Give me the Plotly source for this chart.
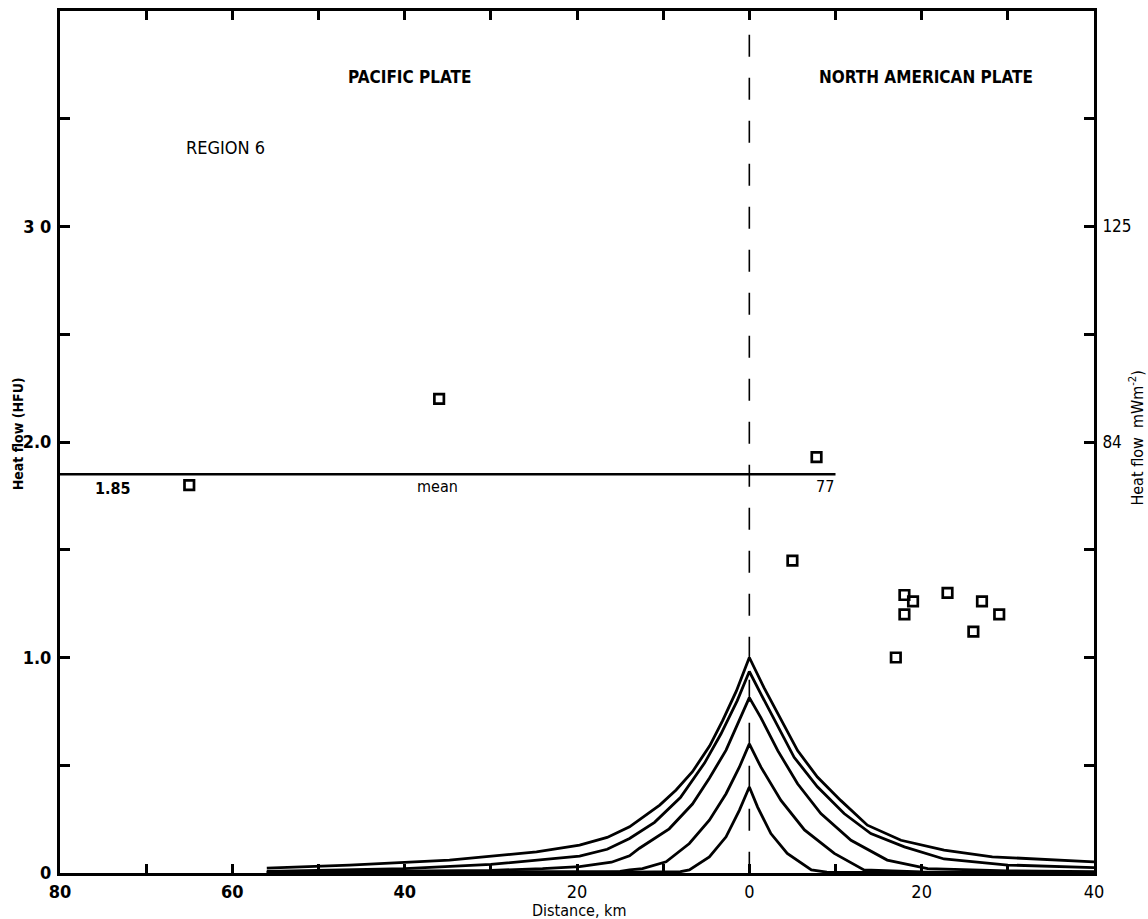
import plotly.graph_objects as go

# ---- data -------------------------------------------------------------
# Measured heat flow (HFU) vs. distance from the fault (km, Pacific side negative)
obs_distance_km = [-65, -36, 5, 7.8, 17, 18, 18, 19, 23, 26, 27, 29]
obs_heat_flow_hfu = [1.80, 2.20, 1.45, 1.93, 1.00, 1.29, 1.20, 1.26, 1.30, 1.12, 1.26, 1.20]

# Mean heat flow line
mean_hfu = 1.85
mean_mw = 77
mean_extent_km = [-80, 10]

# Model frictional-heating anomaly curves (HFU)
curve_a_km = [-56, -46.4, -34.8, -24.7, -19.7, -16.5, -13.9, -10.4, -8.5, -6.6, -4.6, -3.1,
              -1.5, 0, 1.7, 3.7, 5.6, 7.9, 10.6, 13.7, 17.6, 22.6, 28.2, 40]
curve_a_hfu = [0.023, 0.037, 0.06, 0.098, 0.129, 0.165, 0.214, 0.315, 0.385, 0.47, 0.59, 0.707,
               0.845, 1.0, 0.86, 0.707, 0.568, 0.445, 0.337, 0.222, 0.152, 0.106, 0.075, 0.052]

curve_b_km = [-56, -46, -40, -30, -24.7, -19.7, -16.5, -13.9, -11, -8, -5.2, -3.3, -1.4,
              0, 1.35, 3.3, 5.2, 7.9, 11, 14.1, 18, 22.6, 30, 40]
curve_b_hfu = [0.008, 0.014, 0.02, 0.04, 0.058, 0.078, 0.11, 0.16, 0.235, 0.35, 0.51, 0.645, 0.80,
               0.935, 0.83, 0.684, 0.537, 0.40, 0.276, 0.183, 0.121, 0.065, 0.037, 0.025]

curve_c_km = [-56, -40, -30, -24, -19.7, -16, -13.9, -12.75, -10, -9.3, -6.6, -4.64, -2.7, -1.16, 0,
              1.35, 3.3, 5.6, 8.3, 11.8, 16, 20.7, 30, 40]
curve_c_hfu = [0.004, 0.008, 0.012, 0.02, 0.03, 0.05, 0.08, 0.115, 0.185, 0.205, 0.32, 0.44, 0.57,
               0.707, 0.814, 0.72, 0.568, 0.414, 0.276, 0.152, 0.06, 0.02, 0.01, 0.006]

curve_d_km = [-56, -30, -15, -13.9, -12.4, -9.66, -6.96, -4.64, -2.7, -1.16, 0,
              1.35, 3.67, 6.4, 9.86, 13.3, 20, 40]
curve_d_hfu = [0.003, 0.004, 0.008, 0.014, 0.02, 0.052, 0.137, 0.245, 0.368, 0.491, 0.599,
               0.491, 0.337, 0.2, 0.091, 0.014, 0.005, 0.003]

curve_e_km = [-56, -20, -8, -6.96, -4.64, -2.7, -1.16, 0, 0.96, 2.5, 4.4, 7.2, 9, 40]
curve_e_hfu = [0.002, 0.002, 0.006, 0.014, 0.075, 0.168, 0.291, 0.399, 0.306, 0.183,
               0.091, 0.014, 0.004, 0.002]

model_curves = [
    (curve_a_km, curve_a_hfu),
    (curve_b_km, curve_b_hfu),
    (curve_c_km, curve_c_hfu),
    (curve_d_km, curve_d_hfu),
    (curve_e_km, curve_e_hfu),
]

# Axis ticks
x_tick_values = [-80, -70, -60, -50, -40, -30, -20, -10, 0, 10, 20, 30, 40]
x_tick_labels = ["<b>80</b>", "", "<b>60</b>", "", "<b>40</b>", "", "20", "", "0", "", "20", "", "40"]
y_tick_values = [0, 0.5, 1.0, 1.5, 2.0, 2.5, 3.0, 3.5]
y_tick_labels = ["<b>0</b>", "", "<b>1.0</b>", "", "<b>2.0</b>", "", "<b>3 0</b>", ""]
y_right_labels = ["", "", "", "", "84", "", "125", ""]

FONT = "Liberation Sans Narrow, DejaVu Sans Condensed, Arial Narrow, sans-serif"
INK = "#000000"

# ---- figure -------------------------------------------------------------
fig = go.Figure()

for xs, ys in model_curves:
    fig.add_trace(go.Scatter(x=xs, y=ys, mode="lines",
                             line=dict(color=INK, width=2.8),
                             showlegend=False, hoverinfo="skip"))

fig.add_trace(go.Scatter(x=mean_extent_km, y=[mean_hfu, mean_hfu], mode="lines",
                         line=dict(color=INK, width=2.5), showlegend=False))

fig.add_trace(go.Scatter(x=obs_distance_km, y=obs_heat_flow_hfu, mode="markers",
                         marker=dict(symbol="square-open", size=9.5, color=INK,
                                     line=dict(color=INK, width=2.7)),
                         showlegend=False))

# carrier for the right-hand (mW m^-2) axis
fig.add_trace(go.Scatter(x=[None], y=[None], yaxis="y2", showlegend=False))

# fault trace at zero distance
fig.add_shape(type="line", x0=0, x1=0, y0=3.89, y1=0, xref="x", yref="y",
              line=dict(color=INK, width=1.6, dash="22px,21px"), layer="below")

axis_common = dict(showgrid=False, zeroline=False, ticks="inside", tickwidth=3,
                   tickcolor=INK, showline=True, linecolor=INK, linewidth=3)

fig.update_layout(
    width=1148, height=919,
    margin=dict(l=60, r=54, t=8, b=46),
    paper_bgcolor="white", plot_bgcolor="white",
    font=dict(family=FONT, color=INK, size=17),
    xaxis=dict(range=[-80, 40], tickmode="array", tickvals=x_tick_values,
               ticktext=x_tick_labels, ticklen=9, mirror="ticks",
               tickfont=dict(family=FONT, size=18), **axis_common),
    yaxis=dict(range=[0, 4], tickmode="array", tickvals=y_tick_values,
               ticktext=y_tick_labels, ticklen=10, mirror=False,
               tickfont=dict(family=FONT, size=18), ticklabelstandoff=2,
               **axis_common),
    yaxis2=dict(range=[0, 4], overlaying="y", side="right", tickmode="array",
                tickvals=y_tick_values, ticktext=y_right_labels, ticklen=10,
                tickfont=dict(family=FONT, size=17), ticklabelstandoff=2,
                **axis_common),
)

annotations = [
    dict(x=-39.4, y=3.695, text="<b>PACIFIC PLATE</b>", size=17),
    dict(x=20.5, y=3.695, text="<b>NORTH AMERICAN PLATE</b>", size=17),
    dict(x=-60.75, y=3.367, text="REGION 6", size=18),
]
for a in annotations:
    fig.add_annotation(x=a["x"], y=a["y"], xref="x", yref="y", text=a["text"],
                       showarrow=False, font=dict(family=FONT, size=a["size"], color=INK),
                       xanchor="center", yanchor="middle")

# labels on the mean line
fig.add_annotation(x=-73.9, y=mean_hfu, text="<b>%.2f</b>" % mean_hfu, showarrow=False,
                   yshift=-14, font=dict(family=FONT, size=16, color=INK))
fig.add_annotation(x=-36.2, y=mean_hfu, text="mean", showarrow=False,
                   yshift=-12, font=dict(family=FONT, size=16, color=INK))
fig.add_annotation(x=mean_extent_km[1], y=mean_hfu, text=str(mean_mw), showarrow=False,
                   xanchor="right", yshift=-12, font=dict(family=FONT, size=16, color=INK))

# axis titles
fig.add_annotation(x=0.502, y=-0.043, xref="paper", yref="paper", text="Distance, km",
                   showarrow=False, yanchor="middle",
                   font=dict(family=FONT, size=16, color=INK))
fig.add_annotation(x=-0.0406, y=0.509, xref="paper", yref="paper", text="<b>Heat flow (HFU)</b>",
                   showarrow=False, textangle=-90, xanchor="center", yanchor="middle",
                   font=dict(family=FONT, size=14, color=INK))
fig.add_annotation(x=1.0416, y=0.504, xref="paper", yref="paper",
                   text="Heat flow  mWm<sup>-2</sup>)",
                   showarrow=False, textangle=-90, xanchor="center", yanchor="middle",
                   font=dict(family=FONT, size=16, color=INK))

fig.write_html("out.html")
